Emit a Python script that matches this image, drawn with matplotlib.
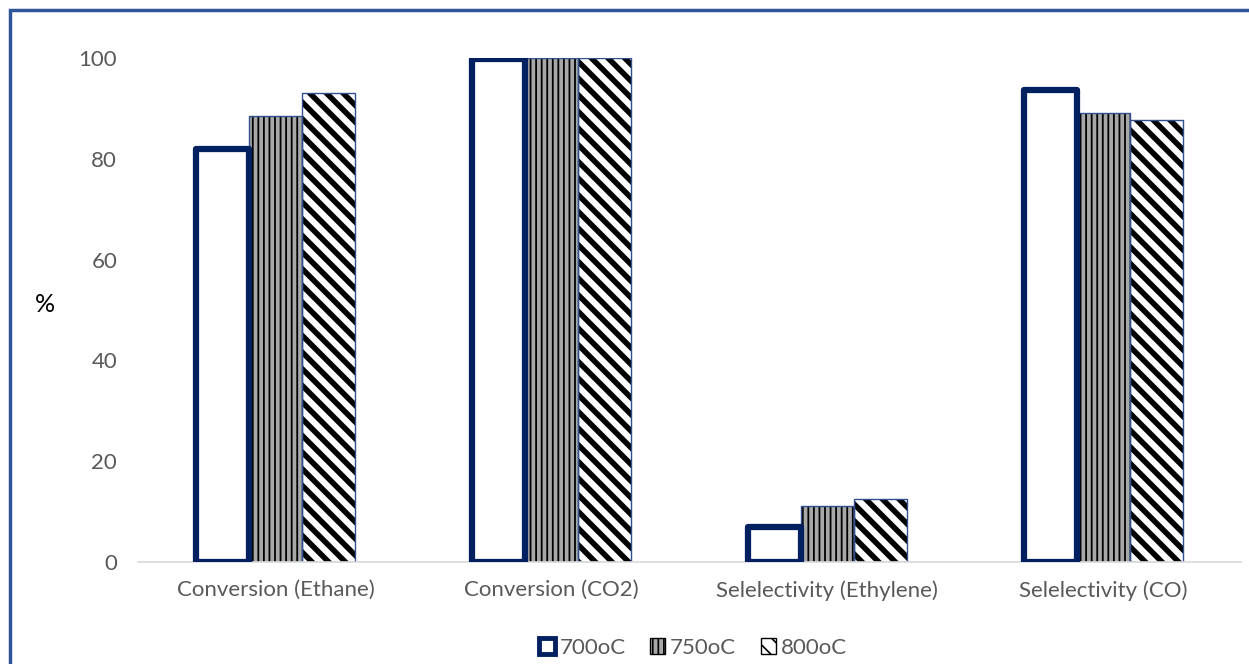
import numpy as np
import matplotlib.pyplot as plt
from matplotlib.patches import Rectangle

plt.rcParams['font.family'] = ['Lato', 'DejaVu Sans']

categories = ['Conversion (Ethane)', 'Conversion (CO2)',
              'Selelectivity (Ethylene)', 'Selelectivity (CO)']
temps = ['700oC', '750oC', '800oC']
t700 = [82.0, 99.8, 6.9, 93.6]
t750 = [88.4, 100.0, 11.1, 89.0]
t800 = [93.0, 100.0, 12.5, 87.6]

navy = '#002060'
grey_txt = '#595959'
stripe_bg = '#a8a8a8'

W, H = 1249, 664
fig = plt.figure(figsize=(W / 100, H / 100), dpi=100)
ax = fig.add_axes([138 / W, 1 - 562 / H, (1241 - 138) / W, (562 - 58) / H])

x = np.arange(len(categories))
bw = 0.192

# 700: hollow bar with heavy navy outline
ax.bar(x - bw, t700, bw, facecolor='white', edgecolor=navy, linewidth=4.5,
       joinstyle='round', zorder=3)
# 750: vertical stripes (hatch width is taken when the patch is made)
plt.rcParams['hatch.linewidth'] = 1.3
ax.bar(x, t750, bw, facecolor=stripe_bg, edgecolor='black', linewidth=0,
       hatch='|||', zorder=2)
# 800: wide diagonal stripes
plt.rcParams['hatch.linewidth'] = 4.0
ax.bar(x + bw, t800, bw, facecolor='white', edgecolor='black', linewidth=0,
       hatch='\\\\', zorder=2)
# thin navy outlines on the patterned bars
ax.bar(x, t750, bw, facecolor='none', edgecolor='#2f4f8f', linewidth=1.0, zorder=2.5)
ax.bar(x + bw, t800, bw, facecolor='none', edgecolor='#2f4f8f', linewidth=1.0, zorder=2.5)

ax.set_xlim(-0.5, len(categories) - 0.5)
ax.set_ylim(0, 100)
ax.set_yticks(range(0, 101, 20))
ax.set_xticks(x)
ax.set_xticklabels(categories)
ax.tick_params(axis='both', length=0, labelsize=16, colors=grey_txt)
ax.tick_params(axis='y', pad=15)
ax.tick_params(axis='x', pad=13)
for s in ['top', 'right', 'left']:
    ax.spines[s].set_visible(False)
ax.spines['bottom'].set_color('#d9d9d9')
ax.spines['bottom'].set_linewidth(1.2)

fig.text(45 / W, 1 - 305 / H, '%', fontsize=18, color='black', ha='center', va='center')

# legend with small square swatches
plt.rcParams['hatch.linewidth'] = 1.2
h1 = Rectangle((0, 0), 1, 1, facecolor='white', edgecolor=navy, linewidth=3.5)
h2 = Rectangle((0, 0), 1, 1, facecolor=stripe_bg, edgecolor='black', linewidth=1, hatch='|||')
h3 = Rectangle((0, 0), 1, 1, facecolor='white', edgecolor='black', linewidth=1, hatch='\\\\')
fig.legend([h1, h2, h3], temps, loc='center', bbox_to_anchor=(693 / W, 1 - 648 / H),
           ncol=3, frameon=False, fontsize=16, labelcolor=grey_txt,
           handlelength=0.7, handleheight=0.7, handletextpad=0.2, columnspacing=1.1)

# outer frame; its right and bottom sides run off the canvas
fig.patches.append(Rectangle((10 / W, -0.05), 1.2, 1 - 10 / H + 0.05,
                             transform=fig.transFigure, fill=False,
                             edgecolor='#2f5597', linewidth=2.5))

fig.savefig('out.png', dpi=100)
